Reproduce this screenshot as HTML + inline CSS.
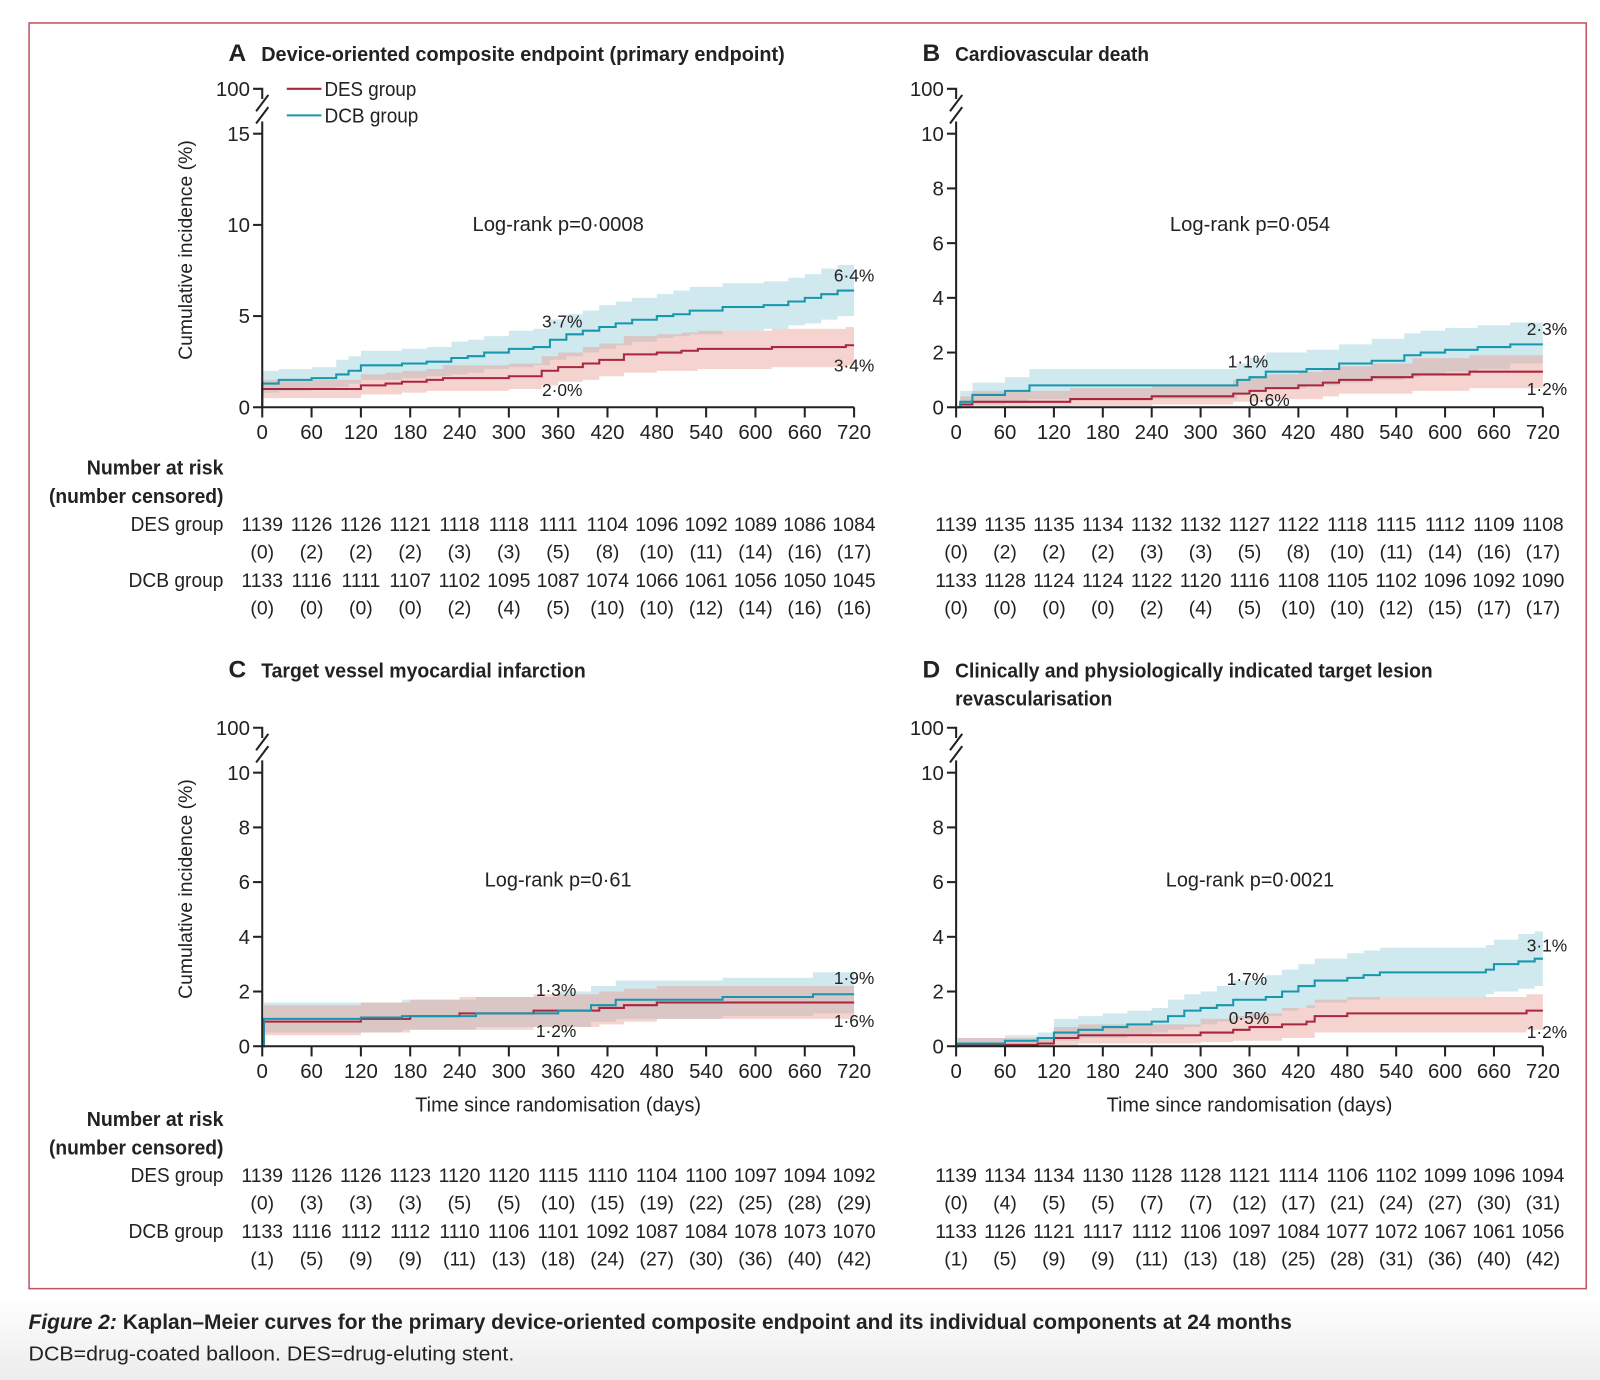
<!DOCTYPE html>
<html><head><meta charset="utf-8">
<style>
html,body{margin:0;padding:0;background:#fff;width:1600px;height:1380px;overflow:hidden}
svg{display:block}
text{font-family:"Liberation Sans Narrow","Liberation Sans",sans-serif;fill:#222}
.t{font-size:20px}
.b{font-weight:bold}
</style></head>
<body>
<svg id="fig" xmlns="http://www.w3.org/2000/svg" width="1600" height="1380" viewBox="0 0 1568 1352" preserveAspectRatio="none">
<defs><linearGradient id="bg" x1="0" y1="0" x2="0" y2="1"><stop offset="0" stop-color="#ffffff"/><stop offset="1" stop-color="#ececec"/></linearGradient></defs>
<rect x="0" y="1270" width="1568" height="82" fill="url(#bg)"/>
<rect x="28.5" y="22.5" width="1526" height="1240" fill="none" stroke="#c05466" stroke-width="1.5"/>
<text x="28" y="1302" style="font-size:21px" class="b" textLength="1238" lengthAdjust="spacingAndGlyphs"><tspan font-style="italic">Figure 2:</tspan> Kaplan–Meier curves for the primary device-oriented composite endpoint and its individual components at 24 months</text>
<text x="28" y="1333" style="font-size:20px" textLength="476" lengthAdjust="spacingAndGlyphs">DCB=drug-coated balloon. DES=drug-eluting stent.</text>
<g id="root"></g>
</svg>
<script>
// ---- data ----
const xTicks = [0,60,120,180,240,300,360,420,480,540,600,660,720];
const aDcbT = [0,20,60,90,105,120,170,200,230,250,270,300,330,350,370,390,410,430,450,480,500,520,560,610,640,660,680,700];
const aDcbV = [1.3,1.5,1.6,1.8,2.0,2.3,2.4,2.5,2.7,2.8,3.0,3.2,3.3,3.7,4.0,4.2,4.4,4.6,4.8,5.0,5.1,5.3,5.5,5.6,5.8,6.0,6.2,6.4];
const aDcbLo = [0.8,0.9,1.0,1.1,1.3,1.5,1.6,1.7,1.8,1.9,2.1,2.2,2.3,2.6,2.8,3.0,3.2,3.4,3.6,3.8,3.9,4.0,4.2,4.3,4.5,4.6,4.8,5.0];
const aDcbHi = [2.0,2.1,2.2,2.6,2.8,3.1,3.2,3.3,3.6,3.7,3.9,4.2,4.3,4.8,5.1,5.3,5.6,5.8,6.0,6.2,6.4,6.6,6.8,6.9,7.1,7.3,7.6,7.8];
const aDesT = [0,120,150,170,200,220,300,340,360,390,410,440,480,510,530,620,710];
const aDesV = [1.0,1.2,1.3,1.4,1.5,1.6,1.7,2.0,2.2,2.4,2.6,2.9,3.0,3.1,3.2,3.3,3.4];
const aDesLo = [0.5,0.7,0.7,0.8,0.9,0.9,1.0,1.2,1.4,1.5,1.7,1.9,2.0,2.0,2.1,2.2,2.3];
const aDesHi = [1.5,1.8,1.9,2.0,2.1,2.3,2.4,2.8,3.0,3.3,3.5,3.9,4.0,4.1,4.2,4.3,4.4];

const bDcbT = [5,20,60,90,340,345,360,380,430,470,510,550,570,600,640,680];
const bDcbV = [0.2,0.45,0.6,0.8,0.8,1.0,1.1,1.3,1.4,1.6,1.7,1.9,2.0,2.1,2.2,2.3];
const bDcbLo = [0.0,0.1,0.2,0.3,0.3,0.5,0.6,0.7,0.8,0.9,1.0,1.1,1.2,1.3,1.4,1.6];
const bDcbHi = [0.6,0.9,1.1,1.4,1.4,1.6,1.8,2.0,2.1,2.3,2.5,2.7,2.8,2.9,3.0,3.1];
const bDesT = [5,20,140,240,340,360,380,420,450,470,510,560,630];
const bDesV = [0.1,0.2,0.3,0.4,0.5,0.6,0.7,0.8,0.9,1.0,1.1,1.2,1.3];
const bDesLo = [0,0,0.05,0.1,0.2,0.2,0.3,0.3,0.4,0.5,0.5,0.6,0.7];
const bDesHi = [0.4,0.6,0.7,0.8,1.0,1.1,1.2,1.3,1.4,1.5,1.6,1.8,1.9];

const cDcbT = [2,120,170,260,360,400,430,560,670];
const cDcbV = [1.0,1.05,1.1,1.2,1.3,1.5,1.7,1.8,1.9];
const cDcbLo = [0.5,0.5,0.6,0.7,0.7,0.9,1.0,1.1,1.2];
const cDcbHi = [1.6,1.6,1.7,1.8,2.0,2.2,2.4,2.5,2.7];
const cDesT = [2,120,180,240,330,410,440,480];
const cDesV = [0.9,1.0,1.1,1.2,1.3,1.4,1.5,1.6];
const cDesLo = [0.4,0.5,0.6,0.6,0.7,0.8,0.9,1.0];
const cDesHi = [1.5,1.6,1.7,1.8,1.9,2.0,2.1,2.2];

const dDcbT = [2,60,100,120,150,180,210,240,260,280,300,320,340,380,400,420,440,480,500,520,650,660,690,710];
const dDcbV = [0.1,0.2,0.3,0.5,0.6,0.7,0.8,0.9,1.1,1.3,1.4,1.5,1.7,1.8,2.0,2.2,2.4,2.5,2.6,2.7,2.8,3.0,3.1,3.2];
const dDcbLo = [0,0,0.05,0.2,0.3,0.3,0.4,0.5,0.6,0.7,0.8,0.9,1.0,1.1,1.3,1.4,1.6,1.7,1.7,1.8,1.9,2.0,2.1,2.2];
const dDcbHi = [0.3,0.4,0.5,1.0,1.1,1.2,1.3,1.4,1.7,1.9,2.0,2.2,2.4,2.6,2.8,3.0,3.2,3.4,3.5,3.6,3.7,3.9,4.1,4.2];
const dDesT = [2,100,120,150,300,340,360,400,430,440,480,700];
const dDesV = [0.05,0.1,0.3,0.4,0.5,0.6,0.7,0.8,0.9,1.1,1.2,1.3];
const dDesLo = [0,0,0.05,0.1,0.15,0.2,0.2,0.3,0.3,0.5,0.5,0.6];
const dDesHi = [0.3,0.3,0.7,0.8,1.0,1.1,1.2,1.4,1.5,1.7,1.8,1.9];

const aRiskDes = ["1139","1126","1126","1121","1118","1118","1111","1104","1096","1092","1089","1086","1084"];
const aCensDes = ["(0)","(2)","(2)","(2)","(3)","(3)","(5)","(8)","(10)","(11)","(14)","(16)","(17)"];
const aRiskDcb = ["1133","1116","1111","1107","1102","1095","1087","1074","1066","1061","1056","1050","1045"];
const aCensDcb = ["(0)","(0)","(0)","(0)","(2)","(4)","(5)","(10)","(10)","(12)","(14)","(16)","(16)"];
const bRiskDes = ["1139","1135","1135","1134","1132","1132","1127","1122","1118","1115","1112","1109","1108"];
const bCensDes = ["(0)","(2)","(2)","(2)","(3)","(3)","(5)","(8)","(10)","(11)","(14)","(16)","(17)"];
const bRiskDcb = ["1133","1128","1124","1124","1122","1120","1116","1108","1105","1102","1096","1092","1090"];
const bCensDcb = ["(0)","(0)","(0)","(0)","(2)","(4)","(5)","(10)","(10)","(12)","(15)","(17)","(17)"];
const cRiskDes = ["1139","1126","1126","1123","1120","1120","1115","1110","1104","1100","1097","1094","1092"];
const cCensDes = ["(0)","(3)","(3)","(3)","(5)","(5)","(10)","(15)","(19)","(22)","(25)","(28)","(29)"];
const cRiskDcb = ["1133","1116","1112","1112","1110","1106","1101","1092","1087","1084","1078","1073","1070"];
const cCensDcb = ["(1)","(5)","(9)","(9)","(11)","(13)","(18)","(24)","(27)","(30)","(36)","(40)","(42)"];
const dRiskDes = ["1139","1134","1134","1130","1128","1128","1121","1114","1106","1102","1099","1096","1094"];
const dCensDes = ["(0)","(4)","(5)","(5)","(7)","(7)","(12)","(17)","(21)","(24)","(27)","(30)","(31)"];
const dRiskDcb = ["1133","1126","1121","1117","1112","1106","1097","1084","1077","1072","1067","1061","1056"];
const dCensDcb = ["(1)","(5)","(9)","(9)","(11)","(13)","(18)","(25)","(28)","(31)","(36)","(40)","(42)"];

const aYTicks = [0,5,10,15];
const bYTicks = [0,2,4,6,8,10];

// ---- drawing ----
const NS = "http://www.w3.org/2000/svg";
const root = document.getElementById('root');
function mk(tag, attrs, parent, txt){
  const e = document.createElementNS(NS, tag);
  for (const k in attrs) e.setAttribute(k, attrs[k]);
  if (txt !== undefined) e.textContent = txt;
  (parent || root).appendChild(e);
  return e;
}
function fit(e, len){
  e.setAttribute('textLength', len);
  e.setAttribute('lengthAdjust', 'spacingAndGlyphs');
}
function stepPts(T, V, sx, sy){
  let d = "M" + sx(0) + "," + sy(0);
  for (let i=0;i<T.length;i++){ d += "H" + sx(T[i]) + "V" + sy(V[i]); }
  d += "H" + sx(720);
  return d;
}
function bandPath(T, Lo, Hi, sx, sy){
  const up = [], lo = [];
  for (let i=0;i<T.length;i++){
    const t1 = (i+1<T.length)?T[i+1]:720;
    up.push([sx(T[i]),sy(Hi[i])],[sx(t1),sy(Hi[i])]);
    lo.push([sx(T[i]),sy(Lo[i])],[sx(t1),sy(Lo[i])]);
  }
  lo.reverse();
  return "M" + up.concat(lo).map(p=>p[0].toFixed(1)+","+p[1].toFixed(1)).join("L") + "Z";
}

function panel(cfg){
  const g = mk('g', {});
  
  
  const sx = t => cfg.x0 + (cfg.x1 - cfg.x0) * t / 720;
  const sy = v => cfg.y0 - (cfg.y0 - cfg.yTopPx) * v / cfg.yTopVal;
  const b1 = mk('path', {d: bandPath(cfg.dcbT, cfg.dcbLo, cfg.dcbHi, sx, sy), fill: 'rgba(140,203,214,0.42)'}, g);
  
  
  const b2 = mk('path', {d: bandPath(cfg.desT, cfg.desLo, cfg.desHi, sx, sy), fill: 'rgba(232,150,140,0.42)'}, g);
  
  
  const l1 = mk('path', {d: stepPts(cfg.desT, cfg.desV, sx, sy), fill: 'none', stroke: '#a8263f', 'stroke-width': 2}, g);
  
  
  const l2 = mk('path', {d: stepPts(cfg.dcbT, cfg.dcbV, sx, sy), fill: 'none', stroke: '#1797ad', 'stroke-width': 2}, g);
  
  
  const ax = mk('g', {stroke: '#222', 'stroke-width': 2, fill: 'none'}, g);
  
  
  const topAx = cfg.yTopPx - 12;
  mk('path', {d: `M${cfg.x0},${cfg.y0}V${topAx}`}, ax);
  mk('path', {d: `M${cfg.x0-6},${topAx+2}L${cfg.x0+6},${topAx-14}M${cfg.x0-6},${topAx-10}L${cfg.x0+6},${topAx-26}`}, ax);
  const y100 = cfg.yTopPx - 44;
  mk('path', {d: `M${cfg.x0-9},${y100}H${cfg.x0}V${y100+10}`}, ax);
  mk('path', {d: `M${cfg.x0},${cfg.y0}H${cfg.x1}`}, ax);
  const yl = mk('text', {x: cfg.x0-12, y: y100+7, 'text-anchor': 'end', class: 't'}, g, '100');
  
  
  cfg.yTicks.forEach(v => {
    mk('path', {d: `M${cfg.x0-9},${sy(v)}H${cfg.x0}`}, ax);
    const t = mk('text', {x: cfg.x0-12, y: sy(v)+7, 'text-anchor': 'end', class: 't'}, g, String(v));
    
    
  });
  xTicks.forEach(v => {
    mk('path', {d: `M${sx(v)},${cfg.y0}V${cfg.y0+10}`}, ax);
    const t = mk('text', {x: sx(v), y: cfg.y0+31, 'text-anchor': 'middle', class: 't'}, g, String(v));
    
    
  });
  const tl = mk('text', {x: cfg.x0-33, y: cfg.titleY, class: 'b', style: 'font-size:24px'}, g, cfg.letter);
  
  
  cfg.title.forEach((s,i) => {
    const tt = mk('text', {x: cfg.x0-1, y: cfg.titleY + i*27, class: 'b', style: 'font-size:20px'}, g, s);
    fit(tt, cfg.titleLen[i]);
    
    
  });
  const lr = mk('text', {x: cfg.x0 + cfg.lrX - cfg.lrLen/2, y: sy(cfg.yTopVal) + (cfg.y0 - sy(cfg.yTopVal))*cfg.lrFrac + 7, class: 't'}, g, cfg.logrank);
  fit(lr, cfg.lrLen);
  
  
  cfg.labels.forEach(l => {
    const t = mk('text', {x: l[0], y: l[1]+6, 'text-anchor': 'middle', style: 'font-size:17px'}, g, l[2]);
    
    
  });
  if (cfg.xTitle){
    const t = mk('text', {x: (cfg.x0+cfg.x1)/2 - 140, y: cfg.y0+64, class: 't'}, g, 'Time since randomisation (days)');
    fit(t, 280);
    
    
  }
  if (cfg.yTitle){
    const cy = (cfg.y0 + cfg.yTopPx)/2 - 20;
    const t = mk('text', {x: 0, y: 0, 'text-anchor': 'middle', transform: `translate(188,${cy}) rotate(-90)`, style: 'font-family:"Liberation Sans",sans-serif;font-size:19px'}, g, 'Cumulative incidence (%)');
    
    
  }
  const rt = mk('g', {}, g);
  
  
  const ry = cfg.riskY;
  if (cfg.riskLabels){
    [["Number at risk",ry-55,true,134],["(number censored)",ry-27,true,171],["DES group",ry,false,91],["DCB group",ry+55,false,93]].forEach(r => {
      const t = mk('text', {x: 219 - r[3], y: r[1]+7, class: r[2]?'t b':'t'}, rt, r[0]);
      fit(t, r[3]);
      
      
    });
  }
  [[cfg.risk[0],0],[cfg.risk[1],27],[cfg.risk[2],55],[cfg.risk[3],82]].forEach(r => {
    r[0].forEach((s,i) => {
      const t = mk('text', {x: sx(xTicks[i]), y: ry + r[1] + 7, 'text-anchor': 'middle', style: 'font-size:19px'}, rt, s);
      
      
    });
  });
}

panel({name:'panel-a', letter:'A', title:['Device-oriented composite endpoint (primary endpoint)'], titleLen:[513], titleY:60,
  x0:257, x1:837, y0:399, yTopVal:15, yTopPx:131, yTicks:aYTicks, lrFrac:0.33, logrank:'Log-rank p=0·0008', lrX:290, lrLen:168,
  dcbT:aDcbT, dcbV:aDcbV, dcbLo:aDcbLo, dcbHi:aDcbHi, desT:aDesT, desV:aDesV, desLo:aDesLo, desHi:aDesHi,
  labels:[[837,270,'6·4%'],[551,315,'3·7%'],[837,358,'3·4%'],[551,382,'2·0%']],
  yTitle:true, riskLabels:true, riskY:513, risk:[aRiskDes,aCensDes,aRiskDcb,aCensDcb]});
panel({name:'panel-b', letter:'B', title:['Cardiovascular death'], titleLen:[190], titleY:60,
  x0:937, x1:1512, y0:399, yTopVal:10, yTopPx:131, yTicks:bYTicks, lrFrac:0.33, logrank:'Log-rank p=0·054', lrX:288, lrLen:157,
  dcbT:bDcbT, dcbV:bDcbV, dcbLo:bDcbLo, dcbHi:bDcbHi, desT:bDesT, desV:bDesV, desLo:bDesLo, desHi:bDesHi,
  labels:[[1516,322,'2·3%'],[1223,354,'1·1%'],[1516,381,'1·2%'],[1244,392,'0·6%']],
  riskY:513, risk:[bRiskDes,bCensDes,bRiskDcb,bCensDcb]});
panel({name:'panel-c', letter:'C', title:['Target vessel myocardial infarction'], titleLen:[318], titleY:664,
  x0:257, x1:837, y0:1025, yTopVal:10, yTopPx:757, yTicks:bYTicks, lrFrac:0.39, logrank:'Log-rank p=0·61', lrX:290, lrLen:144,
  dcbT:cDcbT, dcbV:cDcbV, dcbLo:cDcbLo, dcbHi:cDcbHi, desT:cDesT, desV:cDesV, desLo:cDesLo, desHi:cDesHi,
  labels:[[837,958,'1·9%'],[545,970,'1·3%'],[837,1000,'1·6%'],[545,1010,'1·2%']],
  yTitle:true, xTitle:true, riskLabels:true, riskY:1151, risk:[cRiskDes,cCensDes,cRiskDcb,cCensDcb]});
panel({name:'panel-d', letter:'D', title:['Clinically and physiologically indicated target lesion','revascularisation'], titleLen:[468,154], titleY:664,
  x0:937, x1:1512, y0:1025, yTopVal:10, yTopPx:757, yTicks:bYTicks, lrFrac:0.39, logrank:'Log-rank p=0·0021', lrX:288, lrLen:165,
  dcbT:dDcbT, dcbV:dDcbV, dcbLo:dDcbLo, dcbHi:dDcbHi, desT:dDesT, desV:dDesV, desLo:dDesLo, desHi:dDesHi,
  labels:[[1516,926,'3·1%'],[1222,959,'1·7%'],[1224,997,'0·5%'],[1516,1011,'1·2%']],
  xTitle:true, riskY:1151, risk:[dRiskDes,dCensDes,dRiskDcb,dCensDcb]});

const lg = mk('g', {});


const le1 = mk('path', {d:'M281,87H315', stroke:'#a8263f', 'stroke-width':2}, lg);


const lt1 = mk('text', {x:318, y:94, class:'t'}, lg, 'DES group');
fit(lt1, 90);


const le2 = mk('path', {d:'M281,113H315', stroke:'#1797ad', 'stroke-width':2}, lg);


const lt2 = mk('text', {x:318, y:120, class:'t'}, lg, 'DCB group');
fit(lt2, 92);


</script>
</body></html>
